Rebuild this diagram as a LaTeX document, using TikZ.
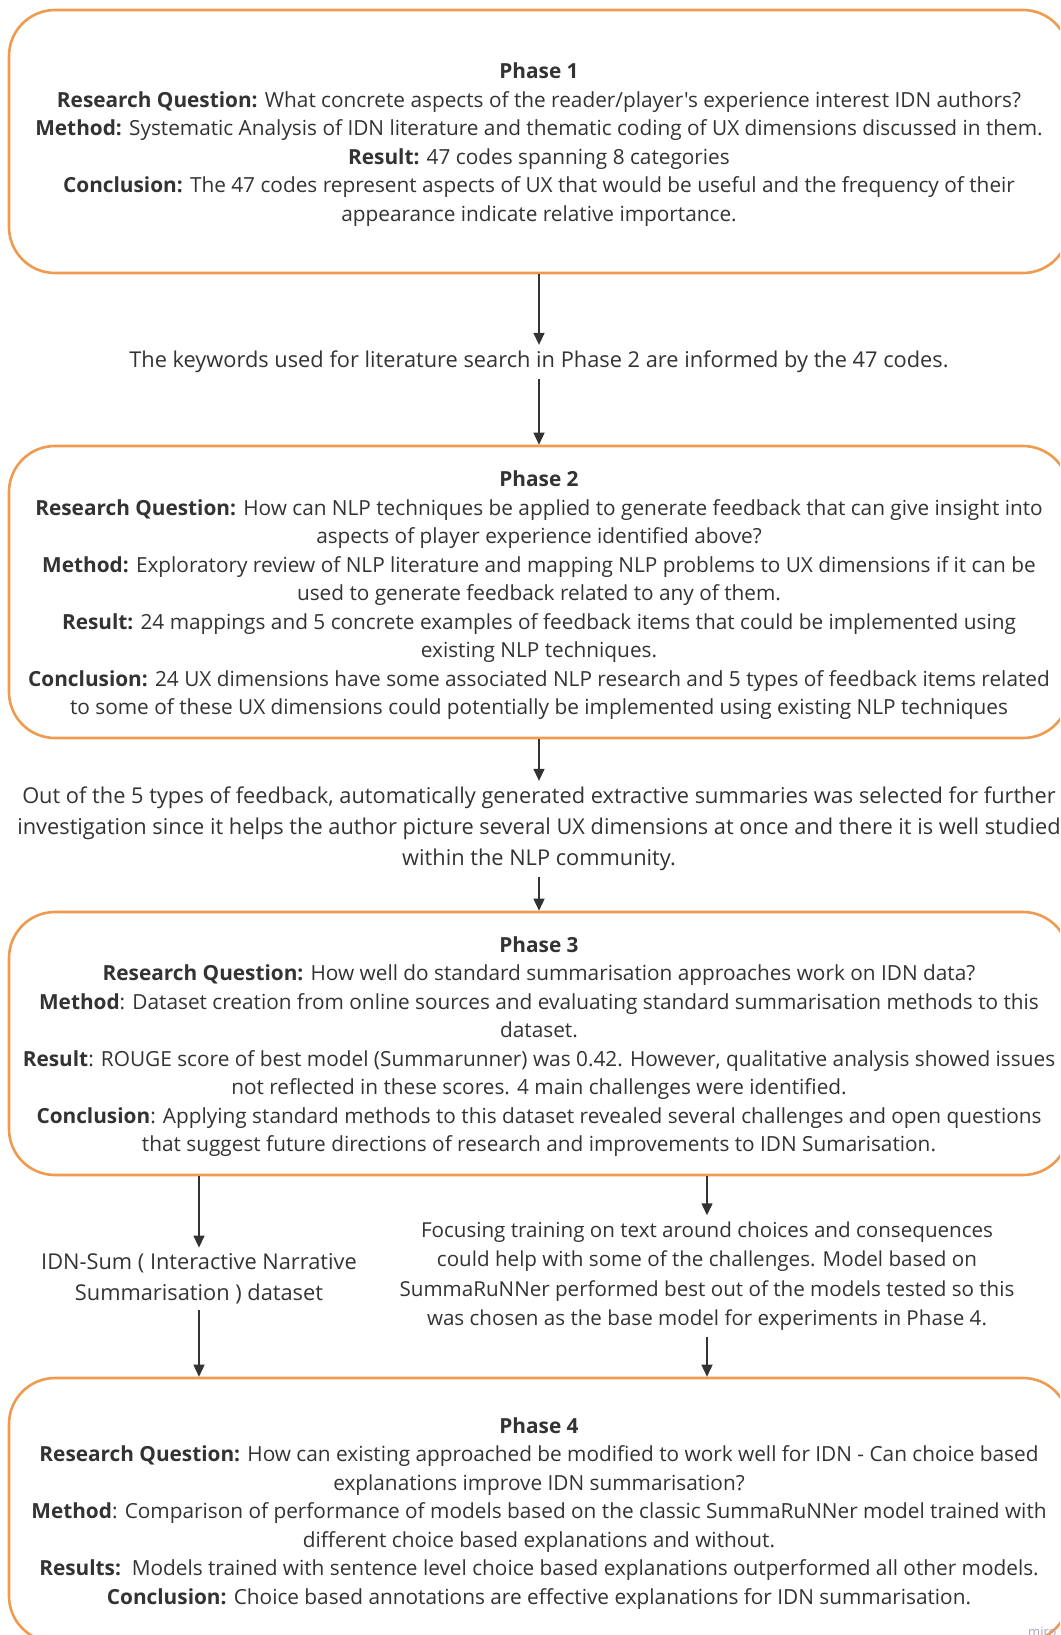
\documentclass[tikz,border=0pt]{standalone}
\usepackage{fontspec}
\setmainfont{Open Sans}[Ligatures=TeXOff]
\usetikzlibrary{arrows.meta}
\definecolor{ink}{HTML}{333333}
\definecolor{frame}{HTML}{F09A50}
\definecolor{mark}{HTML}{A8A8BC}
\tikzset{
  phasebox/.style={draw=frame, line width=2.6pt, rounded corners=46pt, fill=white,
    minimum width=1060pt, align=center, text=ink, inner sep=0pt,
    font=\fontsize{20.8}{28.5}\selectfont},
  note/.style={align=center, text=ink, inner xsep=0pt, inner ysep=6pt,
    font=\fontsize{21.8}{31}\selectfont},
  arr/.style={draw=ink, line width=1.5pt, -{Triangle[width=11pt,length=12pt]}},
}
\newcommand{\lbl}[1]{\textbf{#1}}
\newcommand{\phasehead}[1]{\rule{0pt}{22pt}\textbf{#1}}
\begin{document}
\begin{tikzpicture}[x=1pt,y=-1pt]
\useasboundingbox (0,0) rectangle (1060,1635);
\begin{scope}
\clip (0,0) rectangle (1060,1635);

% Phase 1
\node[phasebox, minimum height=263pt] (p1) at (539,141.5) {%
\phasehead{Phase 1}\\
\lbl{Research Question:} What concrete aspects of the reader/player's experience interest IDN authors?\\
\lbl{Method:} Systematic Analysis of IDN literature and thematic coding of UX dimensions discussed in them.\\
\lbl{Result:} 47 codes spanning 8 categories\\
\lbl{Conclusion:} The 47 codes represent aspects of UX that would be useful and the frequency of their\\
appearance indicate relative importance.};

\node[note] (k1) at (539,362) {The keywords used for literature search in Phase 2 are informed by the 47 codes.};

% Phase 2
\node[phasebox, minimum height=292pt] (p2) at (539,592) {%
\phasehead{Phase 2}\\
\lbl{Research Question:} How can NLP techniques be applied to generate feedback that can give insight into\\
aspects of player experience identified above?\\
\lbl{Method:} Exploratory review of NLP literature and mapping NLP problems to UX dimensions if it can be\\
used to generate feedback related to any of them.\\
\lbl{Result:} 24 mappings and 5 concrete examples of feedback items that could be implemented using\\
existing NLP techniques.\\
\lbl{Conclusion:} 24 UX dimensions have some associated NLP research and 5 types of feedback items related\\
to some of these UX dimensions could potentially be implemented using existing NLP techniques};

\node[note] (k2) at (539,829) {Out of the 5 types of feedback, automatically generated extractive summaries was selected for further\\
investigation since it helps the author picture several UX dimensions at once and there it is well studied\\
within the NLP community.};

% Phase 3
\node[phasebox, minimum height=263pt] (p3) at (539,1043.5) {%
\phasehead{Phase 3}\\
\lbl{Research Question:} How well do standard summarisation approaches work on IDN data?\\
\lbl{Method}: Dataset creation from online sources and evaluating standard summarisation methods to this\\
dataset.\\
\lbl{Result}: ROUGE score of best model (Summarunner) was 0.42. However, qualitative analysis showed issues\\
not reflected in these scores. 4 main challenges were identified.\\
\lbl{Conclusion}: Applying standard methods to this dataset revealed several challenges and open questions\\
that suggest future directions of research and improvements to IDN Sumarisation.};

\node[note] (k3) at (199,1279) {IDN-Sum ( Interactive Narrative\\
Summarisation ) dataset};

\node[note, font=\fontsize{20.6}{29.5}\selectfont] (k4) at (707,1276) {Focusing training on text around choices and consequences\\
could help with some of the challenges. Model based on\\
SummaRuNNer performed best out of the models tested so this\\
was chosen as the base model for experiments in Phase 4.};

% Phase 4
\node[phasebox, minimum height=264pt] (p4) at (539,1510) {%
\phasehead{Phase 4}\\
\lbl{Research Question:} How can existing approached be modified to work well for IDN - Can choice based\\
explanations improve IDN summarisation?\\
\lbl{Method}: Comparison of performance of models based on the classic SummaRuNNer model trained with\\
different choice based explanations and without.\\
\lbl{Results:}\ \ Models trained with sentence level choice based explanations outperformed all other models.\\
\lbl{Conclusion:} Choice based annotations are effective explanations for IDN summarisation.};

\node[text=mark, font=\fontsize{13}{13}\selectfont, anchor=base west, inner sep=0pt] (wm) at (1028,1636) {miro};
\end{scope}

% connectors
\draw[arr] (p1.south) -- (k1.north);
\draw[arr] (k1.south) -- (p2.north);
\draw[arr] (p2.south) -- (k2.north);
\draw[arr] (k2.south) -- (p3.north);
\draw[arr] (p3.south -| k3.north) -- (k3.north);
\draw[arr] (k3.south) -- (p4.north -| k3.south);
\draw[arr] (p3.south -| k4.north) -- (k4.north);
\draw[arr] (k4.south) -- (p4.north -| k4.south);
\end{tikzpicture}
\end{document}
